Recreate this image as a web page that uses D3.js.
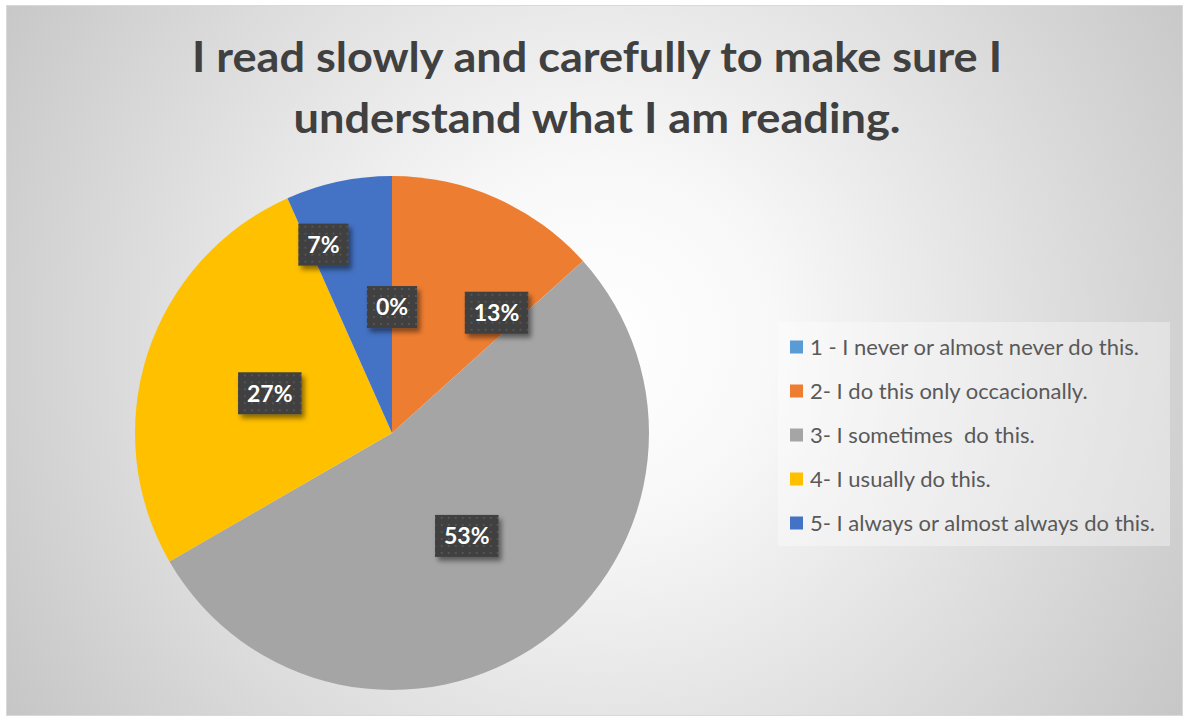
<!DOCTYPE html>
<html>
<head>
<meta charset="utf-8">
<script src="https://cdn.jsdelivr.net/npm/d3@7"></script>
<style>
html,body{margin:0;padding:0;background:#fff;}
svg{display:block;}
</style>
</head>
<body>
<svg id="chart" width="1184" height="717"></svg>
<script>
// ---- data ----
const titleLines = ["I read slowly and carefully to make sure I", "understand what I am reading."];
const categories = [
  "1 - I never or almost never do this.",
  "2- I do this only occacionally.",
  "3- I sometimes  do this.",
  "4- I usually do this.",
  "5- I always or almost always do this."
];
const counts = [0, 2, 8, 4, 1];
const colors = ["#5B9BD5", "#ED7D31", "#A5A5A5", "#FFC000", "#4472C4"];
// label placement tweaks (Excel best-fit moved a couple of labels): [angleDeg or null, radius fraction]
const labelPlacement = [[null, 0.49], [41, 0.62], [null, 0.495], [null, 0.5], [340, 0.78]];

// ---- layout ----
const W = 1184, H = 717;
const svg = d3.select("#chart");
const defs = svg.append("defs");

const grad = defs.append("radialGradient").attr("id", "bg")
  .attr("gradientUnits", "userSpaceOnUse").attr("cx", 600).attr("cy", 340).attr("r", 700);
grad.append("stop").attr("offset", 0).attr("stop-color", "#ffffff");
grad.append("stop").attr("offset", 0.25).attr("stop-color", "#f8f8f8");
grad.append("stop").attr("offset", 1).attr("stop-color", "#c6c6c6");

const pat = defs.append("pattern").attr("id", "dots").attr("patternUnits", "userSpaceOnUse")
  .attr("width", 7).attr("height", 7);
pat.append("rect").attr("width", 7).attr("height", 7).attr("fill", "#3f3f3f");
pat.append("rect").attr("x", 2).attr("y", 2).attr("width", 2).attr("height", 2).attr("fill", "#545454");

const sh = defs.append("filter").attr("id", "shadow").attr("x", "-30%").attr("y", "-30%").attr("width", "170%").attr("height", "170%");
sh.append("feDropShadow").attr("dx", 3).attr("dy", 4).attr("stdDeviation", 2.5)
  .attr("flood-color", "#000").attr("flood-opacity", 0.45);

svg.append("rect").attr("x", 6.5).attr("y", 5.5).attr("width", 1176).attr("height", 710)
  .attr("fill", "url(#bg)").attr("stroke", "#d9d9d9").attr("stroke-width", 1);

// title
const title = svg.append("g");
const titleY = [72, 133];
const titleW = [810, 607];
titleLines.forEach((t, i) => {
  title.append("text").attr("x", 597).attr("y", titleY[i]).attr("text-anchor", "middle")
    .attr("font-family", "Lato, 'Open Sans', sans-serif").attr("font-weight", 700)
    .attr("font-size", 42).attr("fill", "#404040")
    .attr("textLength", titleW[i]).attr("lengthAdjust", "spacingAndGlyphs")
    .text(t);
});

// pie
const cx = 392, cy = 433, R = 257;
const pie = d3.pie().sort(null).value(d => d)(counts);
const arc = d3.arc().innerRadius(0).outerRadius(R);
const g = svg.append("g").attr("transform", `translate(${cx},${cy})`);
g.selectAll("path").data(pie).join("path")
  .attr("d", arc).attr("fill", (d, i) => colors[i]);

const total = d3.sum(counts);
const fmt = d3.format(".0%");
const labels = g.selectAll("g.lbl").data(pie).join("g").attr("class", "lbl")
  .attr("transform", (d, i) => {
    const [ang, rf] = labelPlacement[i];
    const a = ang === null ? (d.startAngle + d.endAngle) / 2 : ang * Math.PI / 180;
    const r = rf * R;
    return `translate(${r * Math.sin(a)},${-r * Math.cos(a)})`;
  });
labels.each(function(d, i) {
  const el = d3.select(this);
  const txt = fmt(d.value / total);
  const t = el.append("text").attr("text-anchor", "middle").attr("dy", "0.36em")
    .attr("font-family", "Lato, 'Open Sans', sans-serif").attr("font-weight", 700)
    .attr("font-size", 23).attr("fill", "#ffffff").text(txt);
  const w = t.node().getComputedTextLength() + 18;
  const h = 42;
  el.insert("rect", "text").attr("x", -w / 2).attr("y", -h / 2).attr("width", w).attr("height", h)
    .attr("fill", "url(#dots)").attr("filter", "url(#shadow)");
});

// legend
const lg = svg.append("g");
lg.append("rect").attr("x", 778).attr("y", 322).attr("width", 392).attr("height", 224)
  .attr("fill", "#ffffff").attr("fill-opacity", 0.35);
const legY = d3.scalePoint().domain(d3.range(categories.length)).range([347, 523]);
const items = lg.selectAll("g.it").data(categories).join("g").attr("class", "it")
  .attr("transform", (d, i) => `translate(790,${legY(i)})`);
items.append("rect").attr("x", 0).attr("y", -6.5).attr("width", 13).attr("height", 13)
  .attr("fill", (d, i) => colors[i]);
const lt = items.append("text").attr("x", 20).attr("dy", "0.35em")
  .attr("font-family", "Lato, 'Open Sans', sans-serif").attr("font-size", 19)
  .attr("fill", "#595959").attr("xml:space", "preserve").style("white-space", "pre").text(d => d);
// fit font so longest item spans ~345px
const maxW = d3.max(lt.nodes(), n => n.getComputedTextLength());
lt.attr("font-size", 19 * 345 / maxW);
</script>
</body>
</html>
